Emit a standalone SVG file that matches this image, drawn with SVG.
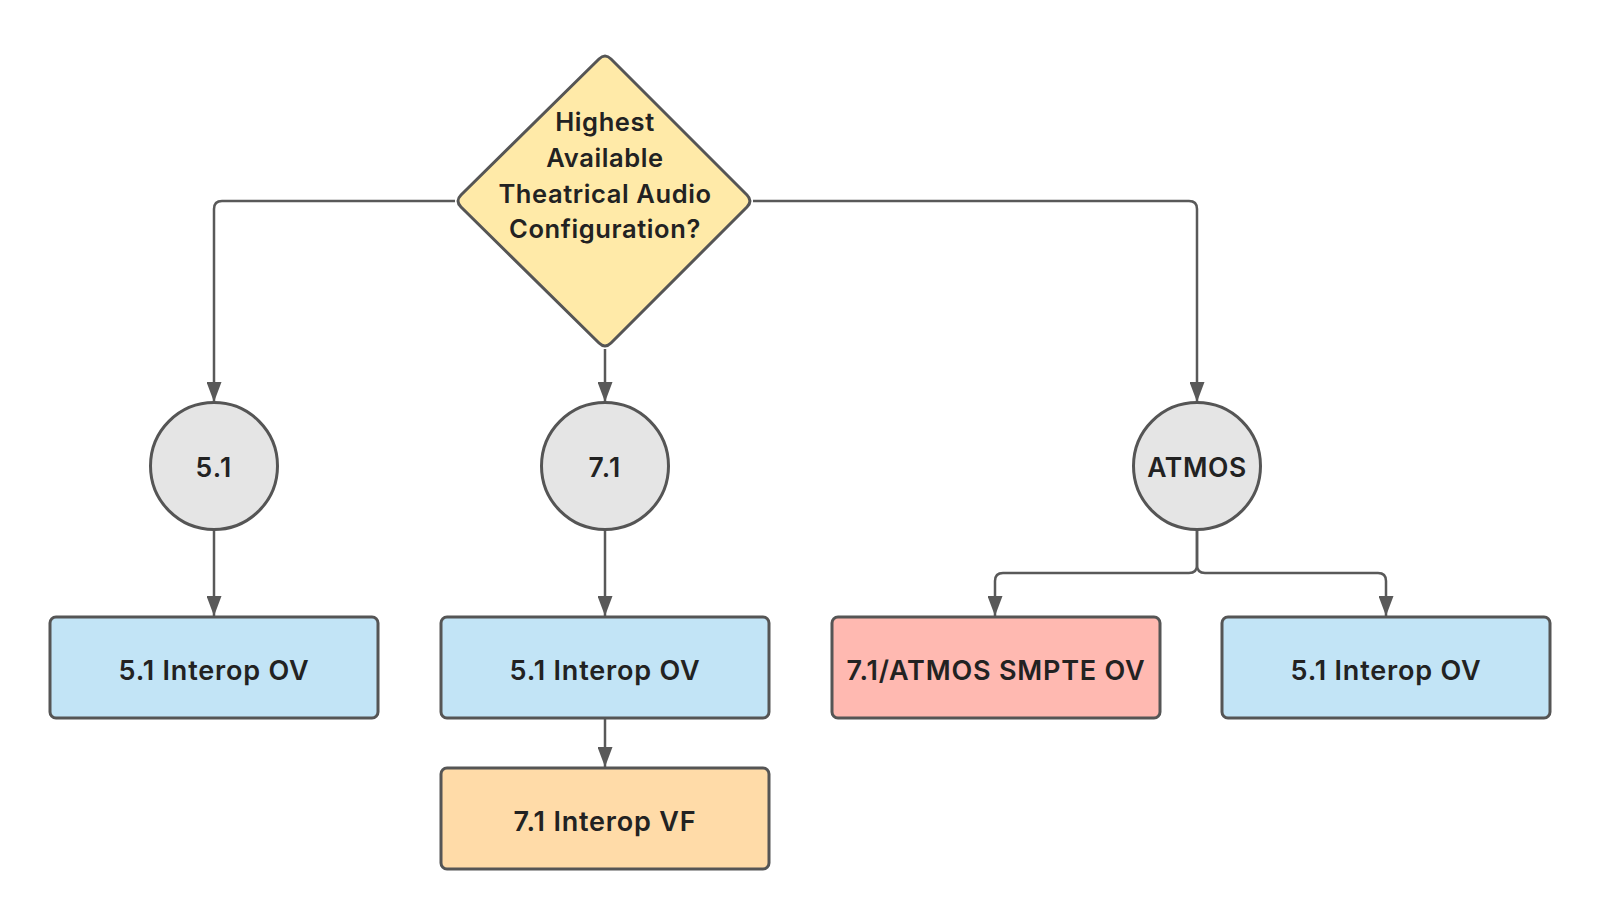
<svg xmlns="http://www.w3.org/2000/svg" width="1600" height="920" viewBox="0 0 1600 920">
<style>
.t{font-family:Inter,"Noto Sans","Liberation Sans",sans-serif;font-weight:600;fill:#222;text-anchor:middle;dominant-baseline:central}
.d{font-size:25.5px;letter-spacing:0.6px}
.ci{font-size:26.5px;letter-spacing:1.2px}
.b{font-size:27px;letter-spacing:0.8px}
.c{fill:none;stroke:#595959;stroke-width:2.5}
.nd{stroke:#555;stroke-width:3}
.blue{fill:#C2E4F6}
.grey{fill:#E5E5E5}
</style>
<defs>
<marker id="ah" viewBox="0 0 20 15" markerWidth="20" markerHeight="15" refX="20" refY="7.5" orient="auto" markerUnits="userSpaceOnUse">
<path d="M0,0 L20,7.5 L0,15 Z" fill="#595959"/>
</marker>
</defs>
<rect width="1600" height="920" fill="#fff"/>
<g id="connectors">
<path class="c" d="M455,201 H222 Q214,201 214,209 V402" marker-end="url(#ah)"/>
<path class="c" d="M605,349 V402" marker-end="url(#ah)"/>
<path class="c" d="M753,201 H1189 Q1197,201 1197,209 V402" marker-end="url(#ah)"/>
<path class="c" d="M214,530 V616" marker-end="url(#ah)"/>
<path class="c" d="M605,530 V616" marker-end="url(#ah)"/>
<path class="c" d="M605,718 V767" marker-end="url(#ah)"/>
<path class="c" d="M1197,530 V565 Q1197,573 1189,573 H1003 Q995,573 995,581 V616" marker-end="url(#ah)"/>
<path class="c" d="M1197,530 V565 Q1197,573 1205,573 H1378 Q1386,573 1386,581 V616" marker-end="url(#ah)"/>
</g>
<g id="decision">
<path class="nd" fill="#FFEAA8" stroke-linejoin="round" d="M599,59 Q605,53 611,59 L747,195 Q753,201 747,207 L611,343 Q605,349 599,343 L461,207 Q455,201 461,195 Z"/>
<text class="t d"><tspan x="605" y="121">Highest</tspan><tspan x="605" y="157">Available</tspan><tspan x="605" y="193">Theatrical Audio</tspan><tspan x="605" y="228">Configuration?</tspan></text>
</g>
<g id="c51">
<circle class="nd grey" cx="214" cy="466" r="63.5"/>
<text class="t ci" x="214" y="467">5.1</text>
</g>
<g id="c71">
<circle class="nd grey" cx="605" cy="466" r="63.5"/>
<text class="t ci" x="605" y="467">7.1</text>
</g>
<g id="catmos">
<circle class="nd grey" cx="1197" cy="466" r="63.5"/>
<text class="t ci" x="1197" y="467" style="letter-spacing:0.6px">ATMOS</text>
</g>
<g id="b1">
<rect class="nd blue" x="50" y="617" width="328" height="101" rx="6"/>
<text class="t b" x="214" y="670">5.1 Interop OV</text>
</g>
<g id="b2">
<rect class="nd blue" x="441" y="617" width="328" height="101" rx="6"/>
<text class="t b" x="605" y="670">5.1 Interop OV</text>
</g>
<g id="b3">
<rect class="nd" x="441" y="768" width="328" height="101" rx="6" fill="#FFDBA8"/>
<text class="t b" x="605" y="821">7.1 Interop VF</text>
</g>
<g id="b4">
<rect class="nd" x="832" y="617" width="328" height="101" rx="6" fill="#FFB9B1"/>
<text class="t b" x="996" y="670">7.1/ATMOS SMPTE OV</text>
</g>
<g id="b5">
<rect class="nd blue" x="1222" y="617" width="328" height="101" rx="6"/>
<text class="t b" x="1386" y="670">5.1 Interop OV</text>
</g>
</svg>
